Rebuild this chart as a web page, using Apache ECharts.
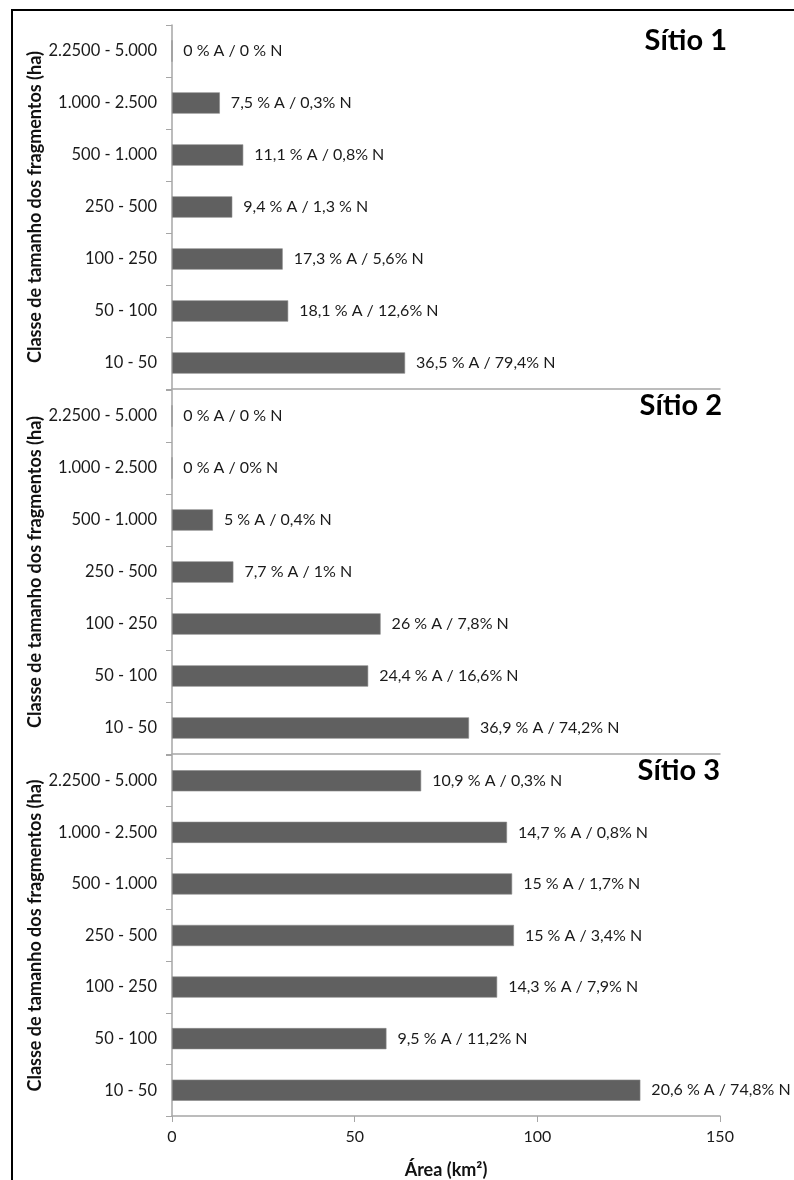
<!DOCTYPE html>
<html><head><meta charset="utf-8">
<script src="https://cdn.jsdelivr.net/npm/echarts@6/dist/echarts.min.js"></script>
<style>html,body{margin:0;padding:0;background:#fff}#c{width:794px;height:1180px}</style>
</head><body><div id="c"></div>
<script>
// categories, top to bottom
const categories = ['2.2500 - 5.000','1.000 - 2.500','500 - 1.000','250 - 500','100 - 250','50 - 100','10 - 50'];
const siteNames = ['Sítio 1','Sítio 2','Sítio 3'];
const site1Values = [0, 13.1, 19.5, 16.5, 30.3, 31.8, 63.8];
const site2Values = [0, 0, 11.2, 16.8, 57.1, 53.7, 81.3];
const site3Values = [68.2, 91.7, 93.1, 93.6, 89.0, 58.7, 128.2];
const site1Labels = ['0 % A / 0 % N','7,5 % A / 0,3% N','11,1 % A / 0,8% N','9,4 % A / 1,3 % N','17,3 % A / 5,6% N','18,1 % A / 12,6% N','36,5 % A / 79,4% N'];
const site2Labels = ['0 % A / 0 % N','0 % A / 0% N','5 % A / 0,4% N','7,7 % A / 1% N','26 % A / 7,8% N','24,4 % A / 16,6% N','36,9 % A / 74,2% N'];
const site3Labels = ['10,9 % A / 0,3% N','14,7 % A / 0,8% N','15 % A / 1,7% N','15 % A / 3,4% N','14,3 % A / 7,9% N','9,5 % A / 11,2% N','20,6 % A / 74,8% N'];
const xTicks = [0, 50, 100, 150];
const xAxisName = 'Área (km²)';
const yAxisName = 'Classe de tamanho dos fragmentos (ha)';

const FONT = 'Lato';
const values = [site1Values, site2Values, site3Values];
const labels = [site1Labels, site2Labels, site3Labels];
const tops = [25, 390, 755];
const titleRight = [67, 72, 74];
const H = 364;

const chart = echarts.init(document.getElementById('c'), null, {renderer:'canvas'});
const grids = [], xAxes = [], yAxes = [], series = [], graphics = [];
for (let i = 0; i < 3; i++) {
  grids.push({left: 172, width: 548, top: tops[i], height: H});
  const last = i === 2;
  xAxes.push({
    type: 'value', gridIndex: i, min: xTicks[0], max: xTicks[xTicks.length-1], interval: 50,
    axisLine: {show: true, lineStyle: {color: '#a6a6a6', width: 1.5}},
    axisTick: {show: last, length: 6, lineStyle: {color: '#a6a6a6'}},
    axisLabel: {show: last, fontFamily: FONT, fontSize: 16, color: '#1a1a1a', margin: 13},
    splitLine: {show: false},
    name: last ? xAxisName : '', nameLocation: 'middle', nameGap: 45, nameMoveOverlap: false,
    nameTextStyle: {fontFamily: FONT, fontSize: 18, fontWeight: 'bold', color: '#111'}
  });
  yAxes.push({
    type: 'category', gridIndex: i, data: categories, inverse: true,
    axisLine: {show: true, lineStyle: {color: '#a6a6a6', width: 1.5}},
    axisTick: {show: true, length: 6, alignWithLabel: false, lineStyle: {color: '#a6a6a6'}},
    axisLabel: {fontFamily: FONT, fontSize: 16.5, color: '#1a1a1a', margin: 15},
    name: yAxisName, nameLocation: 'middle', nameGap: 128, nameRotate: 90, nameMoveOverlap: false,
    nameTextStyle: {fontFamily: FONT, fontSize: 18, fontWeight: 'bold', color: '#111'}
  });
  series.push({
    type: 'bar', xAxisIndex: i, yAxisIndex: i, barWidth: '41%',
    data: values[i],
    itemStyle: {color: '#606060', borderColor: '#8a8a8a', borderWidth: 0.6},
    label: {show: true, position: 'right', distance: 11, fontFamily: FONT, fontSize: 16, color: '#1a1a1a',
      formatter: (p) => labels[i][p.dataIndex]},
    silent: true, animation: false
  });
  graphics.push({type: 'text', right: titleRight[i], top: tops[i] + 1,
    style: {text: siteNames[i], font: 'bold 29px ' + FONT, fill: '#000'}});
}
graphics.push({type: 'rect', shape: {x: 12, y: 10, width: 900, height: 1300}, style: {fill: 'none', stroke: '#000', lineWidth: 2}});

chart.setOption({
  animation: false,
  grid: grids, xAxis: xAxes, yAxis: yAxes, series: series, graphic: graphics
});
</script></body></html>
